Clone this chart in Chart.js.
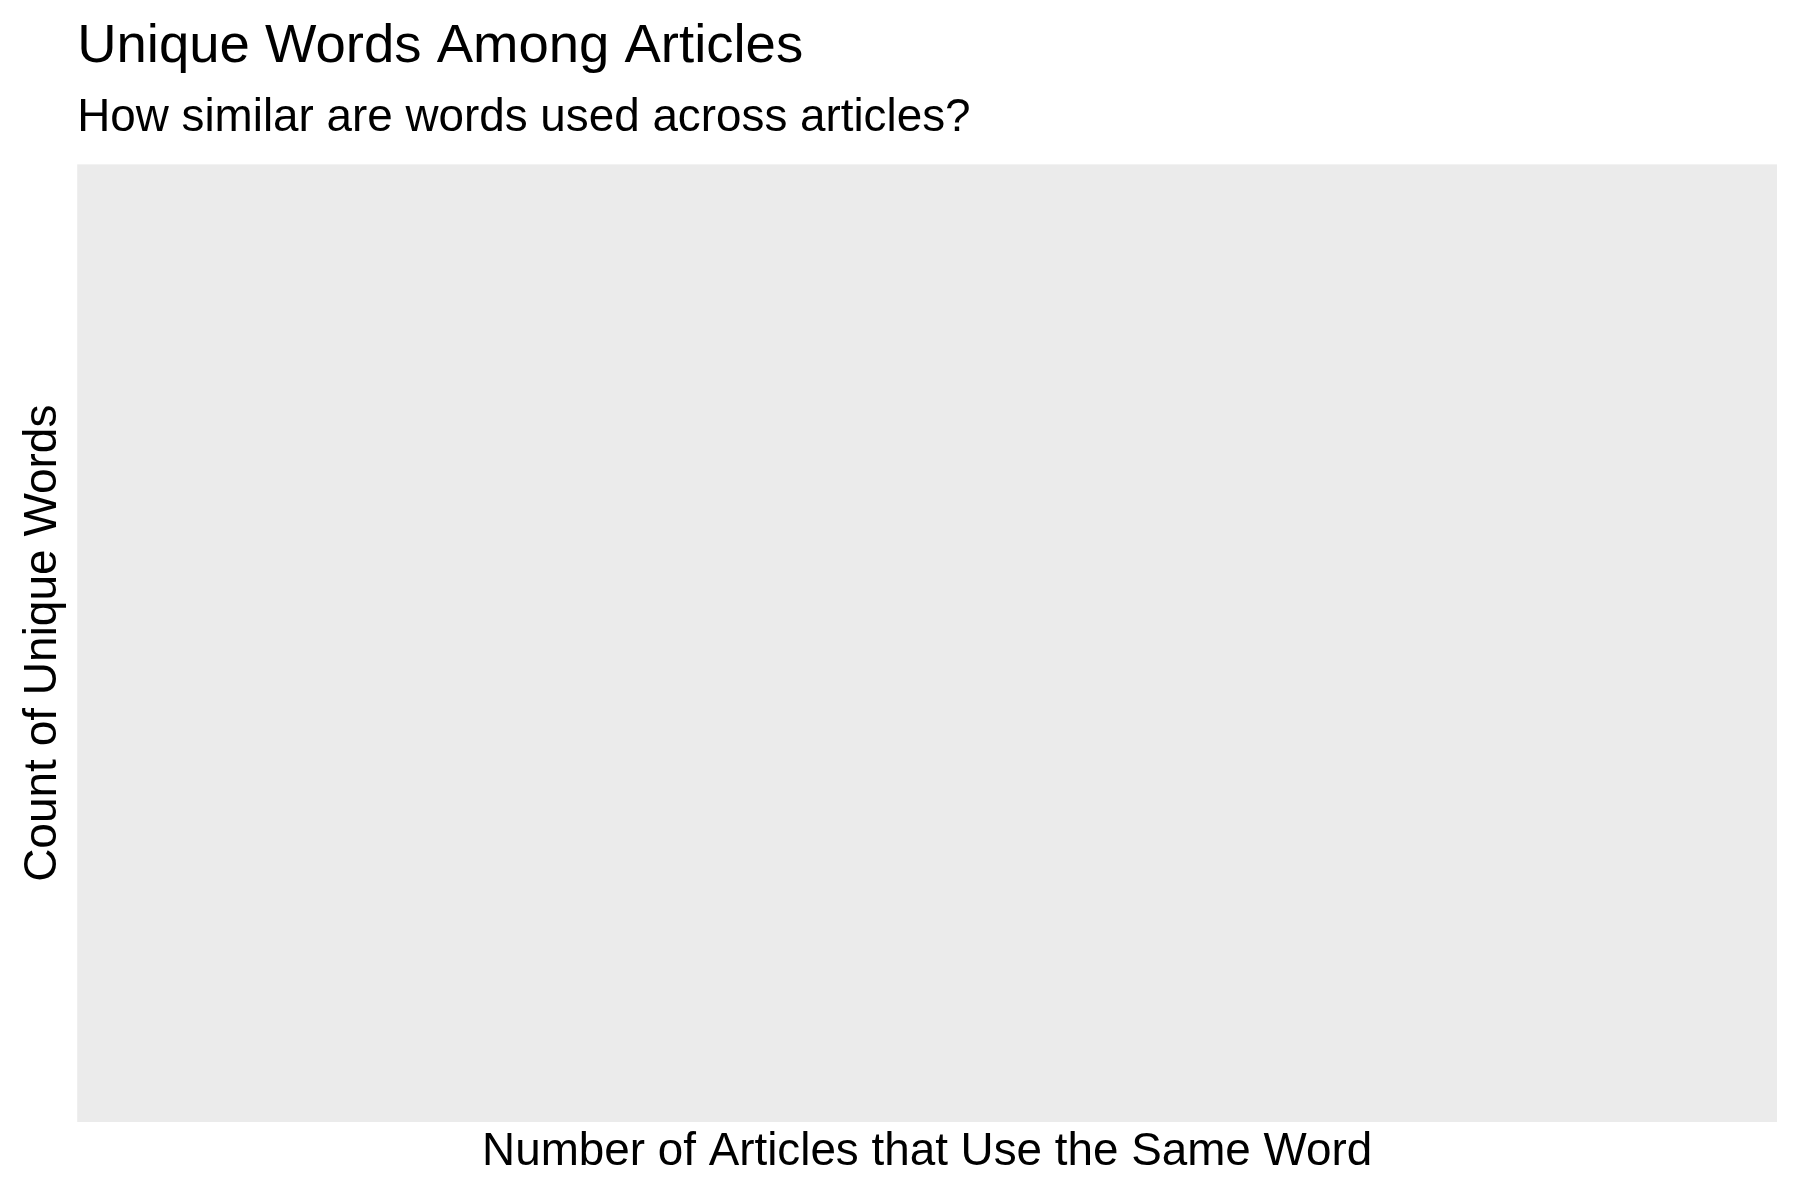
<!DOCTYPE html>
<html>
<head>
<meta charset="utf-8">
<script src="https://cdn.jsdelivr.net/npm/chart.js@4.4.1/dist/chart.umd.min.js"></script>
<style>
  html, body { margin: 0; padding: 0; background: #ffffff; }
  #wrap { width: 1800px; height: 1200px; }
</style>
</head>
<body>
<div id="wrap"><canvas id="c" width="1800" height="1200"></canvas></div>
<script>
// Data (the reference panel is empty: no categories, no values, no tick labels)
const categories = [];
const counts = [];
const xTickLabels = [];
const yTickLabels = [];

const titleText = "Unique Words Among Articles";
const subtitleText = "How similar are words used across articles?";
const xTitle = "Number of Articles that Use the Same Word";
const yTitle = "Count of Unique Words";

const FONT = "'Liberation Sans', Arial, Helvetica, sans-serif";

const panelBg = {
  id: 'panelBg',
  beforeDraw(chart) {
    const {ctx, chartArea: a} = chart;
    ctx.save();
    ctx.fillStyle = '#EBEBEB';
    ctx.fillRect(a.left, a.top, a.right - a.left, a.bottom - a.top);
    ctx.restore();
  }
};

new Chart(document.getElementById('c'), {
  type: 'bar',
  data: {
    labels: categories,
    datasets: [{ label: 'Count', data: counts, backgroundColor: '#595959' }]
  },
  options: {
    responsive: false,
    animation: false,
    layout: { padding: { left: 0, right: 23, top: 0, bottom: 20 } },
    plugins: {
      legend: { display: false },
      tooltip: { enabled: false },
      title: {
        display: true, text: titleText, align: 'start', fullSize: false,
        color: '#000000', font: { family: FONT, size: 54.5, weight: 'normal', lineHeight: 1.2 },
        padding: { top: 14, bottom: 0 }
      },
      subtitle: {
        display: true, text: subtitleText, align: 'start', fullSize: false,
        color: '#000000', font: { family: FONT, size: 45.8, weight: 'normal', lineHeight: 1.2 },
        padding: { top: 11, bottom: 19 }
      }
    },
    scales: {
      x: {
        display: true,
        grid: { display: false, drawTicks: false },
        border: { display: false },
        ticks: { display: false },
        title: {
          display: true, text: xTitle, color: '#000000',
          font: { family: FONT, size: 45.8, weight: 'normal', lineHeight: 1.2 },
          padding: { top: 3, bottom: 0 }
        }
      },
      y: {
        display: true,
        beginAtZero: true,
        grid: { display: false, drawTicks: false },
        border: { display: false },
        ticks: { display: false },
        title: {
          display: true, text: yTitle, color: '#000000',
          font: { family: FONT, size: 46, weight: 'normal', lineHeight: 1.2 },
          padding: { top: 16, bottom: 6 }
        }
      }
    }
  },
  plugins: [panelBg]
});
</script>
</body>
</html>
